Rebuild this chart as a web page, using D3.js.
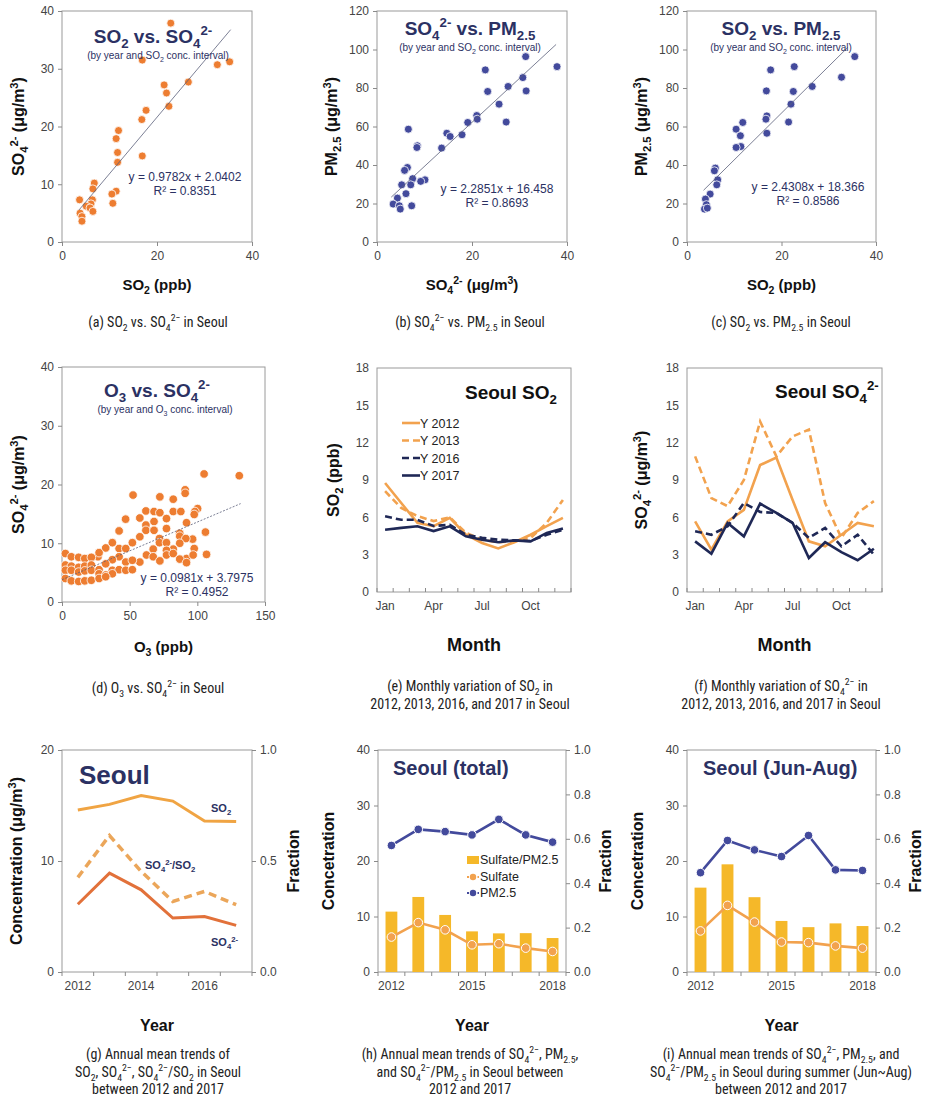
<!DOCTYPE html>
<html>
<head>
<meta charset="utf-8">
<script src="https://cdn.jsdelivr.net/npm/d3@7"></script>
<style>
  body { margin: 0; background: #fff; }
  svg { display: block; }
</style>
</head>
<body>
<div id="fig"></div>
<script>
// ---- (a) SO2 vs SO4
const so2A = [22.9, 16.9, 32.7, 35.3, 26.6, 21.5, 22.0, 22.5, 17.7, 16.8, 11.9, 11.4, 11.7, 11.7, 16.9,
  6.8, 6.5, 11.4, 10.5, 10.7, 3.7, 6.4, 6.1, 5.1, 5.9, 6.5, 3.8, 4.2, 4.2];
const so4A = [37.9, 31.5, 30.7, 31.2, 27.7, 27.2, 25.8, 23.5, 22.8, 21.2, 19.3, 17.9, 15.5, 13.8, 14.9,
  10.2, 9.2, 8.8, 8.3, 6.7, 7.3, 7.3, 6.6, 6.2, 5.9, 5.3, 5.0, 4.4, 3.6];

// ---- (b) SO4 vs PM2.5
const so4B = [37.9, 31.3, 30.7, 31.4, 27.6, 22.8, 23.3, 25.7, 27.2, 21.0, 21.1, 19.1, 17.9, 14.7, 15.4, 13.6,
  6.6, 8.5, 8.4, 6.4, 5.8, 7.5, 10.1, 9.2, 7.1, 5.2, 6.1, 4.3, 3.4, 7.3, 4.7, 4.9];
const pmB = [91.1, 96.3, 85.4, 78.5, 80.8, 89.4, 78.2, 71.6, 62.3, 65.7, 63.8, 62.1, 55.7, 56.5, 54.8, 48.8,
  58.6, 50.0, 49.1, 38.7, 37.2, 32.9, 32.3, 31.5, 29.7, 29.7, 25.1, 22.8, 19.7, 18.8, 18.8, 17.1];

// ---- (c) SO2 vs PM2.5
const so2C = [35.5, 32.7, 26.5, 22.7, 17.7, 16.8, 22.5, 22.0, 21.5, 16.9, 16.7, 16.9, 11.8, 10.4, 11.3, 11.4,
  10.4, 6.0, 5.8, 6.5, 6.3, 4.9, 3.9, 4.1, 3.7, 4.3];
const pmC = [96.3, 85.6, 80.8, 91.1, 89.4, 78.5, 78.2, 71.6, 62.3, 65.5, 63.8, 56.5, 62.1, 58.6, 55.2, 49.6,
  49.1, 38.4, 37.0, 32.3, 29.7, 24.9, 22.3, 19.4, 17.1, 17.6];

// ---- (d) O3 vs SO4
const o3D = [105, 131, 91, 91, 52.5, 72.3, 82.2, 100.2, 98.2, 97.7, 62, 68, 72.3, 82.2, 87.8, 47, 57.5, 77.2,
  62, 68, 92, 62, 68, 77.2, 42.2, 106, 87, 57.5, 72, 87, 96.5, 91.5, 37.2, 52, 72, 77.2, 87, 32.3, 42.2, 47.1,
  67.4, 97.7, 82.2, 77.2, 26.6, 2.5, 6.9, 12.3, 16.8, 21.7, 27.4, 42.2, 62.4, 67.4, 77.2, 82.2, 92, 96.9, 106.8,
  87, 57.5, 72.3, 47.1, 37.2, 92, 52, 2.5, 6.9, 12.3, 16.8, 21.7, 32.3, 2.5, 6.9, 12.3, 16.8, 21.7, 27.4, 37.2,
  42.2, 47.1, 52, 27.4, 32.3, 37.2, 2.5, 6.9, 12.3, 16.8, 21.7, 27.4, 32.3];
const so4D = [21.8, 21.5, 19.1, 18.5, 18.2, 17.9, 17.5, 15.9, 15.4, 14.9, 15.5, 15.4, 15.2, 15.4, 15.4, 14.1, 14.3, 14.2,
  13.1, 13.7, 13.5, 12.2, 12.2, 12.5, 12.1, 11.9, 11.7, 11.1, 10.8, 11.2, 10.7, 10.8, 10.1, 10.1, 10.1, 10.1, 10.0, 9.2, 9.1, 9.1,
  9.0, 9.1, 9.0, 8.8, 7.7, 8.25, 7.7, 7.6, 7.4, 7.6, 8.4, 7.7, 8.0, 7.7, 8.0, 8.25, 7.4, 8.0, 8.1,
  7.3, 6.8, 7.0, 6.8, 7.2, 6.7, 7.1, 6.3, 6.1, 5.9, 6.1, 6.3, 6.5, 5.4, 5.4, 5.1, 5.3, 5.4, 5.5, 5.4,
  5.5, 5.4, 5.5, 4.8, 4.6, 4.8, 4.0, 3.6, 3.5, 3.6, 3.7, 4.0, 4.3];

// ---- (e), (f) monthly
const months = ['Jan', 'Feb', 'Mar', 'Apr', 'May', 'Jun', 'Jul', 'Aug', 'Sep', 'Oct', 'Nov', 'Dec'];
const monthTickLabels = ['Jan', 'Apr', 'Jul', 'Oct'];
const yearNames = ['Y 2012', 'Y 2013', 'Y 2016', 'Y 2017'];
const so2M2012 = [8.76, 7.15, 5.55, 5.3, 5.95, 4.6, 3.94, 3.5, 4.0, 4.6, 5.3, 5.95];
const so2M2013 = [8.1, 6.75, 6.1, 5.7, 6.0, 4.75, 4.2, 4.0, 4.07, 4.35, 5.55, 7.4];
const so2M2016 = [6.08, 5.8, 5.8, 5.3, 5.4, 4.6, 4.35, 4.2, 4.15, 4.1, 4.6, 5.0];
const so2M2017 = [5.0, 5.15, 5.28, 4.9, 5.28, 4.47, 4.2, 4.0, 4.15, 4.07, 4.75, 5.1];
const so4M2012 = [5.68, 3.4, 5.68, 6.6, 10.2, 10.8, 7.4, 4.07, 3.67, 4.6, 5.55, 5.28];
const so4M2013 = [10.9, 7.55, 6.9, 9.0, 13.7, 10.9, 12.5, 13.05, 7.15, 4.35, 6.35, 7.3];
const so4M2016 = [4.88, 4.6, 5.28, 7.15, 6.43, 6.35, 5.55, 4.35, 5.15, 3.67, 4.6, 3.0];
const so4M2017 = [4.07, 3.08, 5.55, 4.47, 7.1, 6.35, 5.55, 2.73, 4.0, 3.2, 2.55, 3.48];

// ---- (g) annual
const yearsG = [2012, 2013, 2014, 2015, 2016, 2017];
const yearTicksG = [2012, 2014, 2016];
const so2Annual = [14.6, 15.1, 15.9, 15.4, 13.6, 13.55];
const so4Annual = [6.1, 8.9, 7.4, 4.86, 5.0, 4.2];
const ratioAnnual = [0.426, 0.615, 0.453, 0.318, 0.363, 0.303];

// ---- (h), (i)
const yearsH = [2012, 2013, 2014, 2015, 2016, 2017, 2018];
const yearTicksH = [2012, 2015, 2018];
const sulfateTotal = [6.3, 8.9, 7.6, 4.9, 5.1, 4.3, 3.7];
const pmTotal = [22.8, 25.7, 25.3, 24.7, 27.5, 24.7, 23.4];
const fracTotal = [0.272, 0.338, 0.257, 0.183, 0.174, 0.175, 0.153];
const sulfateSummer = [7.4, 12.0, 9.0, 5.4, 5.3, 4.7, 4.3];
const pmSummer = [17.9, 23.7, 22.0, 20.8, 24.6, 18.4, 18.3];
const fracSummer = [0.38, 0.485, 0.337, 0.23, 0.202, 0.219, 0.207];
const legendH = ['Sulfate/PM2.5', 'Sulfate', 'PM2.5'];

const W = 940, H = 1100;
const NAVY = '#2b3163';
const ORANGE = '#ed7d31';
const BLUE = '#434a9c';
const LORANGE = '#f2a24e';
const DNAVY = '#1f2856';
const GOLD = '#f5b829';
const FONT = '"Liberation Sans", Arial, sans-serif';
const CAPFONT = '"Liberation Sans Narrow", "Arial Narrow", "Roboto Condensed", "Liberation Sans", sans-serif';

const svg = d3.select('#fig').append('svg').attr('width', W).attr('height', H)
  .style('font-family', FONT);

// text with _{sub} and ^{sup} markup
function rich(textSel, str, fs) {
  const parts = str.split(/(_\{[^}]*\}|\^\{[^}]*\})/).filter(s => s !== '');
  let shift = 0;
  parts.forEach(p => {
    let target = 0, txt = p, size = fs;
    if (p.startsWith('_{')) { target = fs * 0.28; txt = p.slice(2, -1); size = fs * 0.7; }
    else if (p.startsWith('^{')) { target = -fs * 0.4; txt = p.slice(2, -1); size = fs * 0.7; }
    textSel.append('tspan').attr('dy', target - shift).attr('font-size', size).text(txt);
    shift = target;
  });
  return textSel;
}

function label(x, y, str, fs, opts = {}) {
  const t = svg.append('text')
    .attr('x', x).attr('y', y)
    .attr('text-anchor', opts.anchor || 'middle')
    .attr('font-weight', opts.weight || 'normal')
    .attr('fill', opts.color || '#222')
    .attr('font-family', opts.family || FONT)
    .attr('font-size', fs);
  if (opts.rotate) t.attr('transform', `rotate(-90,${x},${y})`);
  return rich(t, str, fs);
}

function styleAxis(g) {
  g.select('.domain').remove();
  g.selectAll('.tick line').attr('stroke', '#8a8a8a');
  g.selectAll('.tick text').attr('fill', '#444').attr('font-size', 12).attr('font-family', FONT);
}

function frame(l, t, r, b) {
  svg.append('rect').attr('x', l).attr('y', t).attr('width', r - l).attr('height', b - t)
    .attr('fill', 'none').attr('stroke', '#9a9a9a').attr('stroke-width', 1);
}

// ---------- scatter panels
function scatterPanel(o) {
  const x = d3.scaleLinear().domain(o.xDomain).range([o.l, o.r]);
  const y = d3.scaleLinear().domain(o.yDomain).range([o.b, o.t]);
  frame(o.l, o.t, o.r, o.b);
  svg.append('g').attr('transform', `translate(0,${o.b})`)
    .call(d3.axisBottom(x).tickValues(o.xTicks).tickSize(4).tickPadding(5)).call(styleAxis);
  svg.append('g').attr('transform', `translate(${o.l},0)`)
    .call(d3.axisLeft(y).tickValues(o.yTicks).tickSize(4).tickPadding(4)).call(styleAxis);

  const pts = o.xs.map((v, i) => ({ x: v, y: o.ys[i] }));
  svg.append('g').selectAll('circle').data(pts).join('circle')
    .attr('cx', d => x(d.x)).attr('cy', d => y(d.y)).attr('r', o.r0 || 4)
    .attr('fill', o.color).attr('stroke', '#fff').attr('stroke-width', 0.8);

  svg.append('line')
    .attr('x1', x(o.fit[0])).attr('y1', y(o.slope * o.fit[0] + o.icpt))
    .attr('x2', x(o.fit[1])).attr('y2', y(o.slope * o.fit[1] + o.icpt))
    .attr('stroke', '#5a5f7a').attr('stroke-width', 0.8)
    .attr('stroke-dasharray', o.dash || null);

  label(o.eq[0], o.eq[1], o.eqText, 12, { color: NAVY });
  label(o.eq[0], o.eq[1] + 14, o.r2Text, 12, { color: NAVY });
  label(o.title[0], o.title[1], o.titleText, 19, { weight: 'bold', color: NAVY });
  label(o.sub[0], o.sub[1], o.subText, 10, { color: NAVY });
  label(o.yt, (o.t + o.b) / 2, o.yTitle, 16, { weight: 'bold', rotate: true, color: '#111' });
  label((o.l + o.r) / 2, o.xtY, o.xTitle, 15, { weight: 'bold', color: '#111' });
}

scatterPanel({
  l: 62, r: 252, t: 11, b: 242, xDomain: [0, 40], yDomain: [0, 40],
  xTicks: [0, 20, 40], yTicks: [0, 10, 20, 30, 40], xs: so2A, ys: so4A, color: ORANGE,
  slope: 0.9782, icpt: 2.0402, fit: [3.6, 35.5],
  eq: [185, 181], eqText: 'y = 0.9782x + 2.0402', r2Text: 'R² = 0.8351',
  title: [153, 43], titleText: 'SO_{2} vs. SO_{4}^{2-}',
  sub: [158, 59], subText: '(by year and SO_{2} conc. interval)',
  yt: 24, yTitle: 'SO_{4}^{2-} (μg/m^{3})', xtY: 290, xTitle: 'SO_{2} (ppb)'
});
scatterPanel({
  l: 377, r: 567, t: 11, b: 242, xDomain: [0, 40], yDomain: [0, 120],
  xTicks: [0, 20, 40], yTicks: [0, 20, 40, 60, 80, 100, 120], xs: so4B, ys: pmB, color: BLUE,
  slope: 2.2851, icpt: 16.458, fit: [3.0, 37.7],
  eq: [497, 193], eqText: 'y = 2.2851x + 16.458', r2Text: 'R² = 0.8693',
  title: [470, 35], titleText: 'SO_{4}^{2-} vs. PM_{2.5}',
  sub: [470, 51], subText: '(by year and SO_{2} conc. interval)',
  yt: 337, yTitle: 'PM_{2.5} (μg/m^{3})', xtY: 290, xTitle: 'SO_{4}^{2-} (μg/m^{3})'
});
scatterPanel({
  l: 687, r: 876, t: 11, b: 242, xDomain: [0, 40], yDomain: [0, 120],
  xTicks: [0, 20, 40], yTicks: [0, 20, 40, 60, 80, 100, 120], xs: so2C, ys: pmC, color: BLUE,
  slope: 2.4308, icpt: 18.366, fit: [3.5, 34.0],
  eq: [808, 191], eqText: 'y = 2.4308x + 18.366', r2Text: 'R² = 0.8586',
  title: [781, 35], titleText: 'SO_{2} vs. PM_{2.5}',
  sub: [781, 51], subText: '(by year and SO_{2} conc. interval)',
  yt: 647, yTitle: 'PM_{2.5} (μg/m^{3})', xtY: 290, xTitle: 'SO_{2} (ppb)'
});
scatterPanel({
  l: 62, r: 265, t: 367, b: 602, xDomain: [0, 150], yDomain: [0, 40],
  xTicks: [0, 50, 100, 150], yTicks: [0, 10, 20, 30, 40], xs: o3D, ys: so4D, color: ORANGE, r0: 4.3,
  slope: 0.0981, icpt: 3.7975, fit: [0, 132], dash: '2,1.5',
  eq: [197, 582], eqText: 'y = 0.0981x + 3.7975', r2Text: 'R² = 0.4952',
  title: [157, 397], titleText: 'O_{3} vs. SO_{4}^{2-}',
  sub: [165, 413], subText: '(by year and O_{3} conc. interval)',
  yt: 24, yTitle: 'SO_{4}^{2-} (μg/m^{3})', xtY: 652, xTitle: 'O_{3} (ppb)'
});

// ---------- band x-axis helper
function bandAxis(x, yPos, labels, inside) {
  const bounds = x.domain().map(d => x(d)).concat([x.range()[1]]);
  svg.append('g').selectAll('line').data(bounds).join('line')
    .attr('x1', d => d).attr('x2', d => d)
    .attr('y1', yPos).attr('y2', inside ? yPos - 4 : yPos + 4)
    .attr('stroke', '#8a8a8a');
  svg.append('g').selectAll('text').data(labels).join('text')
    .attr('x', d => x(d) + x.bandwidth() / 2).attr('y', yPos + 18)
    .attr('text-anchor', 'middle').attr('font-size', 12).attr('fill', '#444')
    .text(d => d);
}

// ---------- monthly panels
function monthPanel(o) {
  const x = d3.scaleBand().domain(months).range([o.l, o.r]);
  const y = d3.scaleLinear().domain([0, 18]).range([o.b, o.t]);
  frame(o.l, o.t, o.r, o.b);
  svg.append('g').attr('transform', `translate(${o.l},0)`)
    .call(d3.axisLeft(y).tickValues(d3.range(0, 19, 3)).tickSize(0).tickPadding(8)).call(styleAxis);
  bandAxis(x, o.b, monthTickLabels, true);

  const line = d3.line().x((d, i) => x(months[i]) + x.bandwidth() / 2).y(d => y(d));
  o.series.forEach((s, k) => {
    svg.append('path').datum(s).attr('d', line).attr('fill', 'none')
      .attr('stroke', o.colors[k]).attr('stroke-width', 2.6)
      .attr('stroke-dasharray', o.dashes[k]);
  });
  label(o.titlePos[0], o.titlePos[1], o.titleText, 19, { weight: 'bold', anchor: 'start', color: '#111' });
  label(o.yt, (o.t + o.b) / 2, o.yTitle, 16, { weight: 'bold', rotate: true, color: '#111' });
  label((o.l + o.r) / 2, 651, 'Month', 18, { weight: 'bold', color: '#111' });
  if (o.legend) {
    yearNames.forEach((n, k) => {
      const yy = 423 + k * 17.5;
      svg.append('line').attr('x1', 402).attr('x2', 420).attr('y1', yy).attr('y2', yy)
        .attr('stroke', o.colors[k]).attr('stroke-width', 2.6).attr('stroke-dasharray', o.dashes[k]);
      svg.append('text').attr('x', 420).attr('y', yy + 4.5).attr('font-size', 12.5).attr('fill', '#222').text(n);
    });
  }
}

const monthColors = [LORANGE, LORANGE, DNAVY, DNAVY];
const monthDashes = [null, '7,4', '7,4', null];
monthPanel({
  l: 377, r: 571, t: 368, b: 592, series: [so2M2012, so2M2013, so2M2016, so2M2017],
  colors: monthColors, dashes: monthDashes, legend: true,
  titlePos: [465, 399], titleText: 'Seoul SO_{2}', yt: 339, yTitle: 'SO_{2} (ppb)'
});
monthPanel({
  l: 687, r: 882, t: 368, b: 592, series: [so4M2012, so4M2013, so4M2016, so4M2017],
  colors: monthColors, dashes: monthDashes, legend: false,
  titlePos: [775, 398], titleText: 'Seoul SO_{4}^{2-}', yt: 647, yTitle: 'SO_{4}^{2-} (μg/m^{3})'
});

// ---------- (g) annual trends
(function () {
  const l = 62, r = 252, t = 750, b = 972;
  const x = d3.scaleBand().domain(yearsG).range([l, r]);
  const yL = d3.scaleLinear().domain([0, 20]).range([b, t]);
  const yR = d3.scaleLinear().domain([0, 1]).range([b, t]);
  frame(l, t, r, b);
  svg.append('g').attr('transform', `translate(${l},0)`)
    .call(d3.axisLeft(yL).tickValues([0, 10, 20]).tickSize(4).tickPadding(4)).call(styleAxis);
  svg.append('g').attr('transform', `translate(${r},0)`)
    .call(d3.axisRight(yR).tickValues([0, 0.5, 1]).tickFormat(d3.format('.1f')).tickSize(4).tickPadding(4)).call(styleAxis);
  bandAxis(x, b, yearTicksG, false);

  const cx = (d, i) => x(yearsG[i]) + x.bandwidth() / 2;
  svg.append('path').datum(so2Annual).attr('fill', 'none').attr('stroke', '#f0a443').attr('stroke-width', 3)
    .attr('d', d3.line().x(cx).y(d => yL(d)));
  svg.append('path').datum(ratioAnnual).attr('fill', 'none').attr('stroke', '#eba65a').attr('stroke-width', 3.5)
    .attr('stroke-dasharray', '8,5').attr('d', d3.line().x(cx).y(d => yR(d)));
  svg.append('path').datum(so4Annual).attr('fill', 'none').attr('stroke', '#e2713a').attr('stroke-width', 3)
    .attr('d', d3.line().x(cx).y(d => yL(d)));

  label(79, 784, 'Seoul', 26, { weight: 'bold', anchor: 'start', color: NAVY });
  label(211, 812, 'SO_{2}', 11, { weight: 'bold', anchor: 'start', color: NAVY });
  label(145, 869, 'SO_{4}^{2-}/SO_{2}', 11, { weight: 'bold', anchor: 'start', color: NAVY });
  label(211, 946, 'SO_{4}^{2-}', 11, { weight: 'bold', anchor: 'start', color: NAVY });
  label(22, (t + b) / 2, 'Concentration (μg/m^{3})', 16, { weight: 'bold', rotate: true, color: '#111' });
  label(299, (t + b) / 2, 'Fraction', 16, { weight: 'bold', rotate: true, color: '#111' });
  label((l + r) / 2, 1031, 'Year', 16, { weight: 'bold', color: '#111' });
})();

// ---------- (h), (i) sulfate / PM2.5
function yearPanel(o) {
  const x = d3.scaleBand().domain(yearsH).range([o.l, o.r]);
  const yL = d3.scaleLinear().domain([0, 40]).range([o.b, o.t]);
  const yR = d3.scaleLinear().domain([0, 1]).range([o.b, o.t]);
  frame(o.l, o.t, o.r, o.b);
  svg.append('g').attr('transform', `translate(${o.l},0)`)
    .call(d3.axisLeft(yL).tickValues([0, 10, 20, 30, 40]).tickSize(4).tickPadding(4)).call(styleAxis);
  svg.append('g').attr('transform', `translate(${o.r},0)`)
    .call(d3.axisRight(yR).tickValues(d3.range(0, 1.01, 0.2)).tickFormat(d3.format('.1f')).tickSize(4).tickPadding(4)).call(styleAxis);

  const bw = x.bandwidth() * 0.44;
  svg.append('g').selectAll('rect').data(o.frac).join('rect')
    .attr('x', (d, i) => x(yearsH[i]) + (x.bandwidth() - bw) / 2)
    .attr('width', bw)
    .attr('y', d => yR(d)).attr('height', d => yR(0) - yR(d))
    .attr('fill', GOLD);
  bandAxis(x, o.b, yearTicksH, false);

  const cx = (d, i) => x(yearsH[i]) + x.bandwidth() / 2;
  [[o.sulfate, LORANGE], [o.pm, BLUE]].forEach(([vals, c]) => {
    svg.append('path').datum(vals).attr('fill', 'none').attr('stroke', c).attr('stroke-width', 2.6)
      .attr('d', d3.line().x(cx).y(d => yL(d)));
    svg.append('g').selectAll('circle').data(vals).join('circle')
      .attr('cx', cx).attr('cy', d => yL(d)).attr('r', 4.3)
      .attr('fill', c).attr('stroke', '#fff').attr('stroke-width', 1);
  });

  label(o.titleX, 775, o.titleText, 20, { weight: 'bold', anchor: 'start', color: NAVY });
  label(o.l - 44, (o.t + o.b) / 2, 'Concetration', 16, { weight: 'bold', rotate: true, color: '#111' });
  label(o.r + 45, (o.t + o.b) / 2, 'Fraction', 16, { weight: 'bold', rotate: true, color: '#111' });
  label((o.l + o.r) / 2, 1031, 'Year', 16, { weight: 'bold', color: '#111' });

  if (o.legend) {
    const lx = 467;
    svg.append('rect').attr('x', lx).attr('y', 856).attr('width', 12).attr('height', 8).attr('fill', GOLD);
    [[LORANGE, 877], [BLUE, 893]].forEach(([c, yy]) => {
      svg.append('line').attr('x1', lx).attr('x2', lx + 12).attr('y1', yy).attr('y2', yy)
        .attr('stroke', c).attr('stroke-width', 2).attr('stroke-dasharray', '2,1.5');
      svg.append('circle').attr('cx', lx + 6).attr('cy', yy).attr('r', 3.2).attr('fill', c);
    });
    legendH.forEach((n, k) => {
      svg.append('text').attr('x', lx + 13).attr('y', [864, 881, 897][k])
        .attr('font-size', 12.5).attr('fill', '#222').text(n);
    });
  }
}

yearPanel({ l: 378, r: 566, t: 750, b: 972, sulfate: sulfateTotal, pm: pmTotal, frac: fracTotal,
  titleText: 'Seoul (total)', titleX: 393, legend: true });
yearPanel({ l: 687, r: 876, t: 750, b: 972, sulfate: sulfateSummer, pm: pmSummer, frac: fracSummer,
  titleText: 'Seoul (Jun-Aug)', titleX: 703, legend: false });

// ---------- captions
const cap = (x, y, s) => label(x, y, s, 14, { family: CAPFONT, color: '#222' });
cap(158, 327, '(a) SO_{2} vs. SO_{4}^{2−} in Seoul');
cap(470, 327, '(b) SO_{4}^{2−} vs. PM_{2.5} in Seoul');
cap(781, 327, '(c) SO_{2} vs. PM_{2.5} in Seoul');
cap(158, 693, '(d) O_{3} vs. SO_{4}^{2−} in Seoul');
cap(470, 691, '(e) Monthly variation of SO_{2} in');
cap(470, 709, '2012, 2013, 2016, and 2017 in Seoul');
cap(781, 691, '(f) Monthly variation of SO_{4}^{2−} in');
cap(781, 709, '2012, 2013, 2016, and 2017 in Seoul');
cap(158, 1059, '(g) Annual mean trends of');
cap(158, 1077, 'SO_{2}, SO_{4}^{2−}, SO_{4}^{2−}/SO_{2} in Seoul');
cap(158, 1094, 'between 2012 and 2017');
cap(470, 1059, '(h) Annual mean trends of SO_{4}^{2−}, PM_{2.5},');
cap(470, 1077, 'and SO_{4}^{2−}/PM_{2.5} in Seoul between');
cap(470, 1094, '2012 and 2017');
cap(781, 1059, '(i) Annual mean trends of SO_{4}^{2−}, PM_{2.5}, and');
cap(781, 1077, 'SO_{4}^{2−}/PM_{2.5} in Seoul during summer (Jun~Aug)');
cap(781, 1094, 'between 2012 and 2017');
</script>
</body>
</html>
